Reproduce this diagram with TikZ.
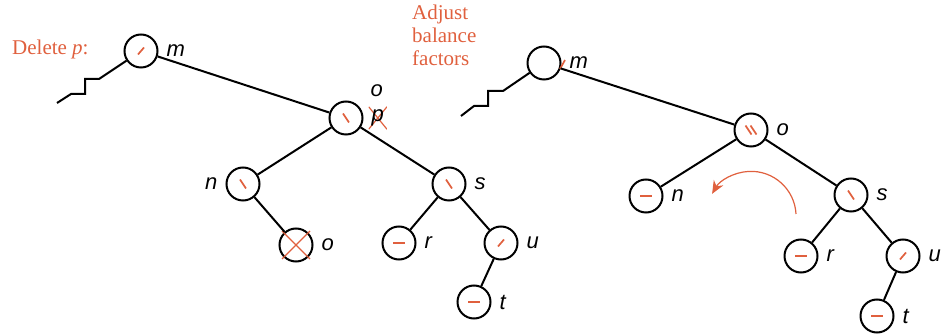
\documentclass[tikz,border=0pt]{standalone}
\usepackage{fontspec}
\setmainfont{Liberation Serif}
\newfontfamily\lblfont{Liberation Sans}
\usetikzlibrary{positioning, arrows.meta, calc}
\definecolor{bfred}{HTML}{E0603E}

\begin{document}
\begin{tikzpicture}[
    x=1pt, y=-1pt,
    avl/.style={draw, circle, line width=2pt, minimum size=33pt, inner sep=0pt},
    bal/.style={draw=bfred, line width=1.7pt},
    lh/.style={avl, path picture={\draw[bal] ([shift={(-3pt,-3.5pt)}]path picture bounding box.center) -- ++(6pt,7pt);}},
    rh/.style={avl, path picture={\draw[bal] ([shift={(-3pt,4.5pt)}]path picture bounding box.center) -- ++(6pt,-9pt);}},
    even/.style={avl, path picture={\draw[bal] ([shift={(-6pt,0pt)}]path picture bounding box.center) -- ++(12pt,0pt);}},
    rrh/.style={avl, path picture={
        \draw[bal] ([shift={(-5.5pt,4.5pt)}]path picture bounding box.center) -- ++(6pt,-9pt);
        \draw[bal] ([shift={(-0.5pt,4.5pt)}]path picture bounding box.center) -- ++(6pt,-9pt);}},
    lbl/.style={font=\lblfont\itshape\fontsize{22}{24}\selectfont, inner sep=1pt},
    crossed/.style={inner sep=3pt, path picture={
        \draw[bal, line width=1.2pt] (path picture bounding box.south west) -- (path picture bounding box.north east);
        \draw[bal, line width=1.2pt] (path picture bounding box.north west) -- (path picture bounding box.south east);}},
    note/.style={font=\fontsize{21}{23}\selectfont, text=bfred, align=left, inner sep=0pt},
    edge/.style={line width=2pt},
    turn/.style={bal, line width=1.2pt, -{Stealth[length=13pt, width=11pt]}},
]
\useasboundingbox (0,0) rectangle (948,336);

% captions
\node[note, anchor=west] (del) at (12,49) {Delete \textit{p}:};
\node[note, anchor=north west] (adj) at (412,5) {Adjust\\balance\\factors};

% left tree: before rebalancing
\node[lh, label={[lbl, label distance=7pt]right:m}] (m) at (141,51) {};
\node[rh, label={[lbl, label distance=13pt]40:o},
          label={[lbl, crossed, label distance=5pt]right:p}] (op) at (346,118) {};
\node[rh, label={[lbl, label distance=7pt]left:n}] (n) at (243,184) {};
\node[rh, label={[lbl, label distance=7pt]right:s}] (s) at (449,184) {};
\node[avl, label={[lbl, label distance=7pt]right:o}] (odel) at (296,245) {};
\node[even, label={[lbl, label distance=7pt]right:r}] (r) at (399,243) {};
\node[lh, label={[lbl, label distance=7pt]right:u}] (u) at (501,243) {};
\node[even, label={[lbl, label distance=7pt]right:t}] (t) at (474,302) {};
\draw[bal, line width=1.2pt] ($(odel)+(-14pt,14pt)$) -- ($(odel)+(14pt,-14pt)$);
\draw[bal, line width=1.2pt] ($(odel)+(-14pt,-14pt)$) -- ($(odel)+(14pt,14pt)$);

% zigzag towards the rest of the tree
\coordinate (z1) at (99,79);
\coordinate (z2) at (85,79);
\coordinate (z3) at (85,94);
\coordinate (z4) at (71,94);
\coordinate (z5) at (57,103);
\draw[edge] (m) -- (z1) -- (z2) -- (z3) -- (z4) -- (z5);

\draw[edge] (m) -- (op);
\draw[edge] (op) -- (n);
\draw[edge] (op) -- (s);
\draw[edge] (n) -- (odel);
\draw[edge] (s) -- (r);
\draw[edge] (s) -- (u);
\draw[edge] (u) -- (t);

% right tree: balance factors adjusted
\node[avl, label={[lbl, label distance=7pt]right:m}] (m2) at (544,63) {};
\draw[bal] ($(m2)+(16pt,-6pt)$) -- ++(5pt,9pt);
\node[rrh, label={[lbl, label distance=7pt]right:o}] (o2) at (751,130) {};
\node[even, label={[lbl, label distance=7pt]right:n}] (n2) at (646,196) {};
\node[rh, label={[lbl, label distance=7pt]right:s}] (s2) at (851,195) {};
\node[even, label={[lbl, label distance=7pt]right:r}] (r2) at (801,256) {};
\node[lh, label={[lbl, label distance=7pt]right:u}] (u2) at (903,256) {};
\node[even, label={[lbl, label distance=7pt]right:t}] (t2) at (877,316) {};

\coordinate (y1) at (503,91);
\coordinate (y2) at (488,91);
\coordinate (y3) at (488,106);
\coordinate (y4) at (474,106);
\coordinate (y5) at (461,116);
\draw[edge] (m2) -- (y1) -- (y2) -- (y3) -- (y4) -- (y5);

\draw[edge] (m2) -- (o2);
\draw[edge] (o2) -- (n2);
\draw[edge] (o2) -- (s2);
\draw[edge] (s2) -- (r2);
\draw[edge] (s2) -- (u2);
\draw[edge] (u2) -- (t2);

% rotation hint
\coordinate (rot) at (796,214);
\draw[turn] (rot) arc[start angle=3, end angle=150, radius=45pt];

\end{tikzpicture}
\end{document}
